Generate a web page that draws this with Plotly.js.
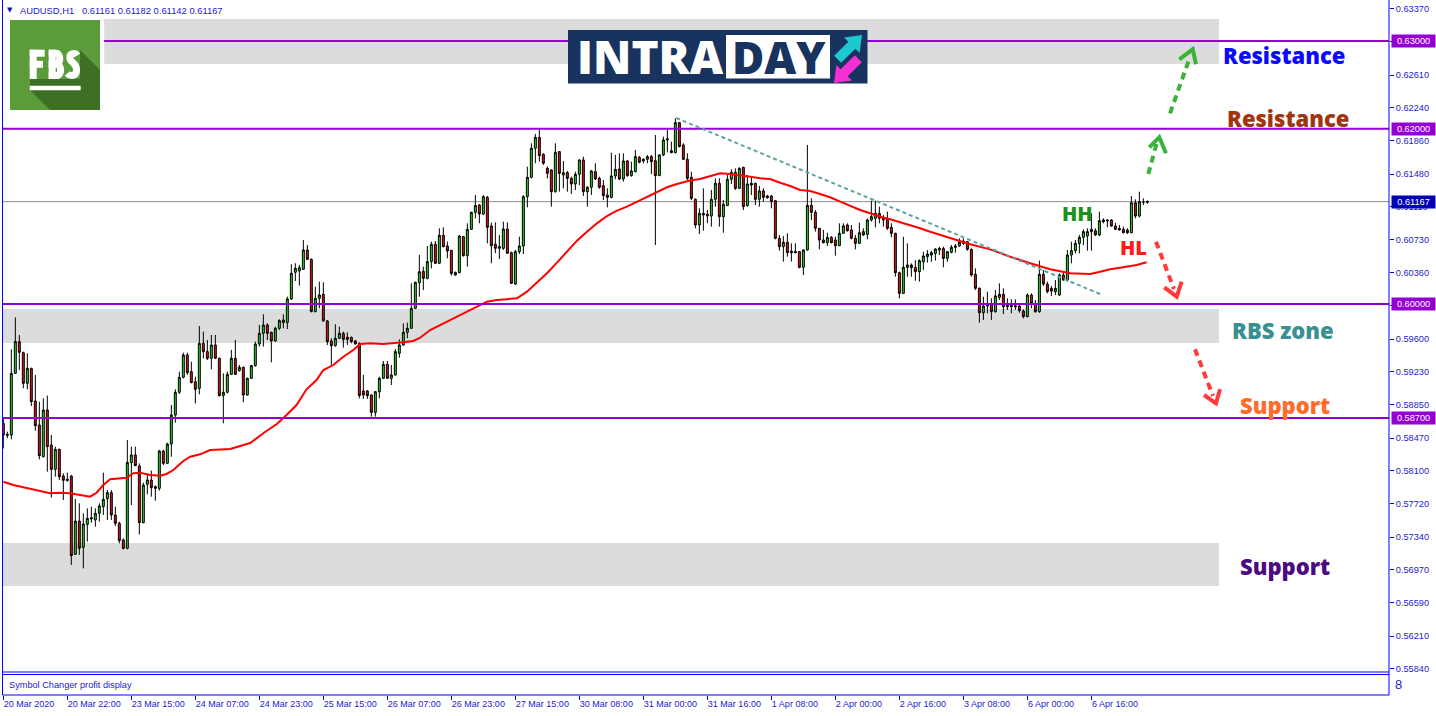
<!DOCTYPE html>
<html><head><meta charset="utf-8">
<script src="https://cdn.plot.ly/plotly-3.0.1.min.js"></script>
<style>html,body{margin:0;padding:0;background:#fff;overflow:hidden}#chart{width:1436px;height:716px}</style>
</head><body><div id="chart"></div>
<script>
// ---------------- DATA (AUDUSD H1) ----------------
const open = [
0.58638,0.58512,0.58505,0.59208,0.59570,0.59444,0.59094,0.59265,0.58893,0.58619,
0.58257,0.58790,0.58391,0.58113,0.58341,0.58037,0.57999,0.58037,0.57143,0.57523,
0.57223,0.57485,0.57546,0.57535,0.57611,0.57687,0.57778,0.57847,0.57592,0.57497,
0.57307,0.57212,0.58189,0.58277,0.58151,0.57504,0.57942,0.57991,0.57915,0.57896,
0.58322,0.58181,0.58402,0.58733,0.58992,0.59163,0.59418,0.59227,0.59113,0.59037,
0.59551,0.59456,0.59380,0.59532,0.59380,0.58954,0.58992,0.59197,0.59380,0.59239,
0.59277,0.58961,0.59152,0.59296,0.59543,0.59665,0.59760,0.59676,0.59578,0.59722,
0.59817,0.59787,0.60057,0.60361,0.60376,0.60395,0.60616,0.60509,0.59912,0.60064,
0.60110,0.59806,0.59578,0.59524,0.59608,0.59665,0.59619,0.59619,0.59578,0.59551,
0.59007,0.59007,0.58961,0.58763,0.58999,0.59152,0.59311,0.59152,0.59190,0.59437,
0.59532,0.59676,0.59722,0.59950,0.60243,0.60372,0.60292,0.60483,0.60680,0.60464,
0.60783,0.60661,0.60612,0.60361,0.60357,0.60768,0.60551,0.60851,0.61045,0.61129,
0.61026,0.61216,0.60890,0.60680,0.60635,0.60635,0.60855,0.60585,0.60228,0.60597,
0.60661,0.61224,0.61445,0.61776,0.61901,0.61707,0.61547,0.61528,0.61281,0.61738,
0.61471,0.61498,0.61433,0.61369,0.61479,0.61643,0.61281,0.61331,0.61509,0.61433,
0.61350,0.61243,0.61216,0.61460,0.61540,0.61426,0.61631,0.61464,0.61509,0.61673,
0.61631,0.61650,0.61681,0.61635,0.61464,0.61700,0.61871,0.61749,0.61726,0.62069,
0.61814,0.61650,0.61445,0.61194,0.60901,0.61034,0.61023,0.61004,0.61194,0.61376,
0.60996,0.61122,0.61422,0.61502,0.61319,0.61559,0.61122,0.61376,0.61376,0.61194,
0.61289,0.61232,0.61232,0.61178,0.60749,0.60654,0.60703,0.60604,0.60600,0.60597,
0.60418,0.60616,0.61125,0.61045,0.60863,0.60730,0.60699,0.60760,0.60730,0.60665,
0.60806,0.60901,0.60844,0.60749,0.60692,0.60825,0.60794,0.60958,0.60977,0.61034,
0.60984,0.60965,0.60874,0.60806,0.60357,0.60121,0.60418,0.60444,0.60418,0.60368,
0.60482,0.60539,0.60558,0.60577,0.60615,0.60634,0.60520,0.60589,0.60646,0.60661,
0.60691,0.60710,0.60623,0.60338,0.60178,0.59900,0.59976,0.59999,0.59912,0.60075,
0.60110,0.59984,0.59984,0.59980,0.59976,0.59919,0.59855,0.60102,0.60007,0.59912,
0.60338,0.60227,0.60178,0.60140,0.60102,0.60330,0.60273,0.60558,0.60608,0.60691,
0.60760,0.60775,0.60825,0.60836,0.60787,0.60958,0.60958,0.60958,0.60889,0.60863,
0.60851,0.60844,0.60813,0.61155,0.61003,0.61160,0.61161];
const high = [
0.58695,0.58543,0.59482,0.59847,0.59646,0.59456,0.59437,0.59273,0.59189,0.58885,
0.58923,0.58954,0.58505,0.58372,0.58349,0.58067,0.58075,0.58048,0.57774,0.57725,
0.57611,0.57668,0.57687,0.57668,0.57725,0.58075,0.57877,0.57877,0.57687,0.57516,
0.57326,0.58448,0.58372,0.58372,0.58181,0.57961,0.58067,0.58098,0.57930,0.58334,
0.58334,0.58417,0.58847,0.59026,0.59227,0.59444,0.59444,0.59341,0.59170,0.59748,
0.59684,0.59589,0.59646,0.59646,0.59387,0.59208,0.59228,0.59475,0.59589,0.59304,
0.59285,0.59159,0.59304,0.59570,0.59760,0.59882,0.59779,0.59684,0.59741,0.59825,
0.59882,0.60083,0.60452,0.60464,0.60445,0.60730,0.60673,0.60521,0.60197,0.60254,
0.60247,0.59817,0.59608,0.59768,0.59741,0.59684,0.59676,0.59627,0.59589,0.59562,
0.59190,0.59018,0.58969,0.59007,0.59170,0.59349,0.59349,0.59304,0.59486,0.59596,
0.59779,0.59787,0.60235,0.60254,0.60559,0.60425,0.60661,0.60711,0.60718,0.60863,
0.60874,0.60711,0.60616,0.60368,0.60787,0.60775,0.60920,0.61053,0.61243,0.61140,
0.61243,0.61232,0.60928,0.60931,0.60787,0.60939,0.60931,0.60597,0.60616,0.60768,
0.61243,0.61566,0.61833,0.61939,0.61985,0.61719,0.61570,0.61536,0.61833,0.61745,
0.61631,0.61517,0.61452,0.61509,0.61650,0.61681,0.61346,0.61528,0.61605,0.61452,
0.61414,0.61319,0.61726,0.61700,0.61719,0.61719,0.61643,0.61623,0.61757,0.61688,
0.61662,0.61700,0.61700,0.61928,0.61707,0.61909,0.61985,0.61852,0.62118,0.62076,
0.61833,0.61719,0.61509,0.61205,0.61091,0.61319,0.61072,0.61300,0.61433,0.61433,
0.61186,0.61471,0.61536,0.61547,0.61559,0.61566,0.61471,0.61452,0.61384,0.61346,
0.61319,0.61243,0.61243,0.61186,0.60787,0.60775,0.60806,0.60692,0.60692,0.60604,
0.60623,0.61814,0.61205,0.61072,0.60863,0.60844,0.60813,0.60775,0.60768,0.60920,
0.60920,0.60920,0.60901,0.60787,0.60928,0.60863,0.60977,0.61178,0.61178,0.61110,
0.61015,0.61053,0.60920,0.60813,0.60368,0.60767,0.60691,0.60463,0.60501,0.60509,
0.60596,0.60615,0.60604,0.60634,0.60653,0.60653,0.60604,0.60672,0.60684,0.60748,
0.60748,0.60718,0.60634,0.60406,0.60189,0.60083,0.60140,0.60064,0.60159,0.60235,
0.60178,0.60064,0.60052,0.60052,0.60007,0.59938,0.60121,0.60121,0.60045,0.60494,
0.60387,0.60254,0.60205,0.60273,0.60349,0.60357,0.60615,0.60710,0.60729,0.60787,
0.60851,0.60863,0.61034,0.60863,0.61053,0.60977,0.60965,0.60965,0.60927,0.60901,
0.60882,0.60863,0.61231,0.61193,0.61281,0.61205,0.61182];
const low = [
0.58352,0.58467,0.58455,0.59201,0.59246,0.59037,0.59026,0.58836,0.58554,0.58227,
0.58250,0.58086,0.57790,0.58029,0.57991,0.57763,0.57972,0.57021,0.57136,0.57136,
0.56983,0.57288,0.57504,0.57459,0.57516,0.57592,0.57535,0.57535,0.57466,0.57269,
0.57200,0.57200,0.57706,0.58151,0.57371,0.57497,0.57828,0.57801,0.57755,0.57870,
0.58162,0.58174,0.58257,0.58645,0.58973,0.59151,0.59189,0.59094,0.58866,0.58969,
0.59379,0.59360,0.59254,0.59372,0.58942,0.58638,0.58980,0.59190,0.59190,0.59228,
0.58878,0.58954,0.59144,0.59285,0.59513,0.59513,0.59589,0.59334,0.59570,0.59703,
0.59722,0.59714,0.60045,0.60262,0.60209,0.60388,0.60502,0.59905,0.59905,0.59950,
0.59798,0.59532,0.59304,0.59513,0.59600,0.59501,0.59532,0.59551,0.59539,0.58923,
0.58916,0.58916,0.58714,0.58714,0.58923,0.59144,0.59144,0.59075,0.59182,0.59387,
0.59524,0.59608,0.59714,0.59943,0.60083,0.60159,0.60281,0.60406,0.60456,0.60456,
0.60646,0.60521,0.60323,0.60323,0.60349,0.60540,0.60425,0.60844,0.60977,0.60920,
0.61015,0.60692,0.60464,0.60578,0.60513,0.60616,0.60570,0.60228,0.60216,0.60570,
0.60570,0.61102,0.61433,0.61605,0.61623,0.61585,0.61433,0.61110,0.61270,0.61281,
0.61319,0.61281,0.61255,0.61300,0.61357,0.61232,0.61110,0.61243,0.61414,0.61315,
0.61186,0.61102,0.61205,0.61422,0.61414,0.61395,0.61452,0.61452,0.61502,0.61605,
0.61605,0.61605,0.61483,0.60673,0.61460,0.61688,0.61730,0.61719,0.61719,0.61787,
0.61643,0.61414,0.61186,0.60863,0.60798,0.60836,0.60920,0.60882,0.61110,0.60882,
0.60813,0.61118,0.61369,0.61300,0.61312,0.61072,0.61110,0.61243,0.61129,0.61110,
0.61167,0.61201,0.61091,0.60737,0.60608,0.60483,0.60540,0.60483,0.60578,0.60406,
0.60330,0.60608,0.60958,0.60825,0.60623,0.60692,0.60661,0.60692,0.60551,0.60661,
0.60798,0.60825,0.60737,0.60623,0.60684,0.60775,0.60737,0.60939,0.60874,0.60920,
0.60882,0.60844,0.60760,0.60311,0.60064,0.60113,0.60311,0.60311,0.60265,0.60254,
0.60387,0.60471,0.60482,0.60494,0.60558,0.60418,0.60482,0.60577,0.60585,0.60653,
0.60672,0.60608,0.60311,0.60159,0.59786,0.59817,0.59893,0.59817,0.59900,0.60045,
0.59885,0.59931,0.59893,0.59931,0.59900,0.59836,0.59847,0.59950,0.59900,0.59900,
0.60205,0.60121,0.60091,0.60102,0.60091,0.60265,0.60254,0.60463,0.60577,0.60577,
0.60672,0.60608,0.60608,0.60775,0.60775,0.60920,0.60874,0.60882,0.60844,0.60836,
0.60806,0.60798,0.60806,0.60977,0.60988,0.61129,0.61142];
const close = [
0.58505,0.58501,0.59208,0.59570,0.59448,0.59094,0.59265,0.58885,0.58611,0.58269,
0.58790,0.58372,0.58113,0.58341,0.58029,0.57987,0.57987,0.57128,0.57523,0.57212,
0.57489,0.57554,0.57561,0.57611,0.57695,0.57771,0.57847,0.57592,0.57497,0.57299,
0.57212,0.58193,0.58277,0.58155,0.57504,0.57934,0.57991,0.57904,0.57896,0.58322,
0.58181,0.58402,0.58733,0.58992,0.59163,0.59418,0.59216,0.59102,0.59026,0.59551,
0.59456,0.59379,0.59532,0.59380,0.58954,0.58992,0.59197,0.59380,0.59197,0.59277,
0.58961,0.59152,0.59296,0.59543,0.59665,0.59760,0.59665,0.59578,0.59722,0.59810,
0.59787,0.60057,0.60349,0.60407,0.60414,0.60616,0.60509,0.59912,0.60064,0.60102,
0.59806,0.59570,0.59524,0.59608,0.59665,0.59596,0.59596,0.59570,0.59543,0.58954,
0.58961,0.58954,0.58763,0.58999,0.59152,0.59311,0.59152,0.59190,0.59456,0.59532,
0.59676,0.59722,0.59950,0.60247,0.60368,0.60292,0.60483,0.60680,0.60464,0.60783,
0.60654,0.60604,0.60349,0.60330,0.60775,0.60551,0.60851,0.61045,0.61122,0.61026,
0.61224,0.60874,0.60665,0.60635,0.60654,0.60855,0.60578,0.60235,0.60597,0.60661,
0.61224,0.61445,0.61776,0.61901,0.61692,0.61605,0.61490,0.61281,0.61730,0.61490,
0.61498,0.61433,0.61369,0.61479,0.61643,0.61281,0.61331,0.61517,0.61426,0.61331,
0.61236,0.61216,0.61460,0.61536,0.61426,0.61631,0.61464,0.61517,0.61681,0.61616,
0.61650,0.61681,0.61623,0.61464,0.61700,0.61871,0.61882,0.61726,0.62069,0.61795,
0.61650,0.61433,0.61205,0.60901,0.61034,0.61015,0.61004,0.61194,0.61376,0.60996,
0.61137,0.61422,0.61502,0.61319,0.61547,0.61110,0.61369,0.61357,0.61194,0.61289,
0.61216,0.61213,0.61167,0.60749,0.60654,0.60703,0.60585,0.60585,0.60585,0.60418,
0.60616,0.61125,0.61045,0.60863,0.60730,0.60699,0.60760,0.60699,0.60665,0.60806,
0.60890,0.60836,0.60749,0.60692,0.60813,0.60787,0.60958,0.60996,0.61034,0.60977,
0.60958,0.60863,0.60806,0.60357,0.60121,0.60418,0.60444,0.60414,0.60368,0.60494,
0.60547,0.60570,0.60585,0.60627,0.60634,0.60520,0.60596,0.60646,0.60661,0.60703,
0.60718,0.60623,0.60330,0.60178,0.59900,0.59976,0.59999,0.59912,0.60091,0.60110,
0.59969,0.59969,0.59969,0.59969,0.59923,0.59855,0.60102,0.60007,0.59912,0.60338,
0.60227,0.60140,0.60147,0.60178,0.60330,0.60273,0.60558,0.60608,0.60691,0.60760,
0.60825,0.60825,0.60851,0.60787,0.60950,0.60939,0.60950,0.60889,0.60851,0.60844,
0.60813,0.60813,0.61155,0.61003,0.61167,0.61161,0.61167];

// moving average (bar position, price)
const maBars = [0,2.5,5,7.5,10,11.7,14.2,16.7,19.2,21.7,23.3,25,26.7,29.2,30.8,32.5,34.2,36.7,39.2,40.8,
42.5,45,46.7,49.2,51.7,56.7,61.7,65.4,68.3,70.8,73.3,75.8,78.3,80,82.5,85,87.5,89.2,91.7,95,
97.5,100,102.5,104.2,106.7,111.7,117.1,120.9,123.3,128.4,130.9,133.4,135.9,138.4,140.9,143.4,145.9,148.4,150.9,153.4,
155.9,158.4,160.9,163.4,165.9,168.4,171.7,174.2,176.7,179.2,181.7,184.2,186.7,189.2,191.7,194.2,196.7,199.2,201.7,204.2,
206.7,209.2,211.7,214.2,216.7,219.2,221.7,224.2,226.7,229.2,231.7,236.7,241.7,246.7,251.7,256.7,261.7,266.7,271.7,274.2,
276.7,280,283.3,285.8];
const maValues = [0.57972,0.57934,0.57908,0.57885,0.57858,0.57840,0.57846,0.57840,0.57820,0.57801,0.57846,0.57934,0.57999,0.58011,0.58017,0.58068,0.58075,0.58048,0.58040,0.58060,
0.58105,0.58208,0.58257,0.58284,0.58334,0.58345,0.58413,0.58539,0.58627,0.58733,0.58847,0.59026,0.59132,0.59246,0.59303,0.59398,0.59475,0.59543,0.59551,0.59543,
0.59551,0.59562,0.59577,0.59615,0.59703,0.59817,0.59939,0.60026,0.60045,0.60064,0.60140,0.60242,0.60350,0.60471,0.60596,0.60722,0.60824,0.60920,0.61003,0.61064,
0.61110,0.61167,0.61217,0.61281,0.61331,0.61369,0.61409,0.61426,0.61460,0.61491,0.61483,0.61471,0.61452,0.61434,0.61426,0.61383,0.61346,0.61300,0.61289,0.61255,
0.61217,0.61167,0.61118,0.61072,0.61034,0.60995,0.60966,0.60932,0.60901,0.60863,0.60824,0.60756,0.60681,0.60623,0.60539,0.60464,0.60395,0.60350,0.60342,0.60368,
0.60395,0.60418,0.60444,0.60475];

const timeTickBars = [0,16,32,48,64,80,96,112,128,144,160,176,192,208,224,240,256,272];
const timeTickLabels = ['20 Mar 2020','20 Mar 22:00','23 Mar 15:00','24 Mar 07:00','24 Mar 23:00','25 Mar 15:00',
 '26 Mar 07:00','26 Mar 23:00','27 Mar 15:00','30 Mar 08:00','31 Mar 00:00','31 Mar 16:00','1 Apr 08:00',
 '2 Apr 00:00','2 Apr 16:00','3 Apr 08:00','6 Apr 00:00','6 Apr 16:00'];
const priceTicks = [0.6337,0.6299,0.6261,0.6224,0.6186,0.6148,0.6111,0.6073,0.6036,0.5998,0.5960,0.5923,
 0.5885,0.5847,0.5810,0.5772,0.5734,0.5697,0.5659,0.5621,0.5584];

const levelPrices = [0.630, 0.620, 0.600, 0.587];
const currentPrice = 0.61167;
const zoneTop = [0.62738, 0.63251];
const zoneRBS = [0.59554, 0.59942];
const zoneSupport = [0.56782, 0.57272];
const trendFrom = [168.2, 0.62122];
const trendTo = [274.2, 0.60113];

// ---------------- LAYOUT HELPERS ----------------
const L = 3, R = 1389, T = 3, B = 695;
const PX = x => (x - L) / (R - L);
const PY = y => (B - y) / (B - T);
const fmt = p => PX(p[0]).toFixed(5) + ',' + PY(p[1]).toFixed(5);
const path = pts => pts.map((p, i) => (i ? 'L' : 'M') + fmt(p)).join(' ');

const MTBLUE = '#1c1cc8';
const mtFont = {family: 'Liberation Sans, Arial, sans-serif', size: 9.2, color: MTBLUE};
const boldFont = (size, color) => ({family: 'Open Sans, sans-serif', size: size, color: color, weight: 800});

const barIndex = open.map((_, i) => i);

const traces = [
  {type: 'candlestick', x: barIndex, open: open, high: high, low: low, close: close,
   increasing: {line: {color: '#000000', width: 1}, fillcolor: '#22dd22'},
   decreasing: {line: {color: '#000000', width: 1}, fillcolor: '#e81212'},
   whiskerwidth: 0, hoverinfo: 'skip', showlegend: false, xaxis: 'x', yaxis: 'y'},
  {type: 'scatter', mode: 'lines', x: maBars, y: maValues, line: {color: '#ff0000', width: 2},
   hoverinfo: 'skip', showlegend: false, xaxis: 'x', yaxis: 'y'}
];

const shapes = [];
// zones
[[25.2, zoneTop], [-3, zoneRBS], [-3, zoneSupport]].forEach(([x0, z]) => {
  shapes.push({type: 'rect', xref: 'x', yref: 'y', x0: x0, x1: 303.9, y0: z[0], y1: z[1],
    fillcolor: '#dcdcdc', line: {width: 0}, layer: 'below'});
});
// current price line
shapes.push({type: 'line', xref: 'x', yref: 'y', x0: -3, x1: 350, y0: currentPrice, y1: currentPrice,
  line: {color: '#8c8c8c', width: 1}, layer: 'below'});
// purple levels
levelPrices.forEach((p, i) => {
  shapes.push({type: 'line', xref: 'x', yref: 'y', x0: i === 0 ? 25.2 : -3, x1: 350, y0: p, y1: p,
    line: {color: '#9400d3', width: 2}});
});
// trend line
shapes.push({type: 'line', xref: 'x', yref: 'y', x0: trendFrom[0], y0: trendFrom[1], x1: trendTo[0], y1: trendTo[1],
  line: {color: '#5fa3a3', width: 2, dash: '4px,3px'}});

// frame
const frameLine = (x0, y0, x1, y1) => shapes.push({type: 'line', xref: 'paper', yref: 'paper',
  x0: PX(x0), y0: PY(y0), x1: PX(x1), y1: PY(y1), line: {color: '#0000ff', width: 1}});
frameLine(2.5, 0, 2.5, 695);
frameLine(2.5, 672, 1389, 672);
frameLine(2.5, 674.5, 1389, 674.5);
frameLine(2.5, 695, 1389, 695);
frameLine(1389, 0, 1389, 695);

// dashed arrows
function arrow(tail, end, head, color) {
  shapes.push({type: 'line', xref: 'paper', yref: 'paper', x0: PX(tail[0]), y0: PY(tail[1]),
    x1: PX(end[0]), y1: PY(end[1]), line: {color: color, width: 4, dash: '7px,5px'}});
  shapes.push({type: 'path', xref: 'paper', yref: 'paper', path: path(head), line: {color: color, width: 4}});
}
const GREEN_ARROW = '#3bb23a', RED_ARROW = '#ff3a3a';
arrow([1148.3, 174], [1157, 142], [[1149.3, 147.3], [1159.3, 137.3], [1166, 153.3]], GREEN_ARROW);
arrow([1170, 113.3], [1190, 57], [[1179.3, 59.3], [1192.7, 49.3], [1196, 64.3]], GREEN_ARROW);
arrow([1156, 241.7], [1174, 289], [[1164.3, 287.3], [1176.7, 296.7], [1181.7, 281.7]], RED_ARROW);
arrow([1195, 349.3], [1213, 396], [[1204, 395], [1216, 403.3], [1220, 389.3]], RED_ARROW);

// FBS logo (square, shadow, letters drawn as strokes, underline)
const paperShape = s => shapes.push(Object.assign({xref: 'paper', yref: 'paper'}, s));
paperShape({type: 'rect', x0: PX(10), x1: PX(100), y0: PY(110), y1: PY(20), fillcolor: '#5b9b3a', line: {width: 0}});
paperShape({type: 'path', path: path([[80, 50], [100, 70], [100, 110], [50, 110], [30, 90], [30, 79], [80, 79]]) + ' Z',
  fillcolor: '#3d6f25', line: {width: 0}});
const W = {color: '#ffffff', width: 7};
const seg = (a, b) => paperShape({type: 'line', x0: PX(a[0]), y0: PY(a[1]), x1: PX(b[0]), y1: PY(b[1]), line: W});
seg([33.2, 49.7], [33.2, 79]); seg([29.7, 53.2], [44.7, 53.2]); seg([29.7, 64.3], [43, 64.3]);   // F
seg([52.2, 49.7], [52.2, 79]);                                                                   // B stem
paperShape({type: 'path', line: W,
  path: 'M' + fmt([48.7, 53.2]) + ' L' + fmt([56, 53.2]) + ' C' + fmt([61, 53.2]) + ' ' + fmt([61, 64.3]) + ' ' + fmt([56, 64.3]) + ' L' + fmt([48.7, 64.3])});
paperShape({type: 'path', line: W,
  path: 'M' + fmt([48.7, 64.3]) + ' L' + fmt([56.5, 64.3]) + ' C' + fmt([62, 64.3]) + ' ' + fmt([62, 75.5]) + ' ' + fmt([56.5, 75.5]) + ' L' + fmt([48.7, 75.5])});
paperShape({type: 'path', line: W,
  path: 'M' + fmt([77.2, 55.5]) + ' C' + fmt([75.5, 52.8]) + ' ' + fmt([69.8, 52.5]) + ' ' + fmt([69.8, 57.5]) +
        ' C' + fmt([69.8, 63]) + ' ' + fmt([76.6, 62.5]) + ' ' + fmt([76.6, 69.5]) +
        ' C' + fmt([76.6, 77]) + ' ' + fmt([70, 76.5]) + ' ' + fmt([67.3, 73.5])});
paperShape({type: 'rect', x0: PX(29.7), x1: PX(80.7), y0: PY(90.3), y1: PY(85.7), fillcolor: '#ffffff', line: {width: 0}});

// INTRADAY logo
paperShape({type: 'rect', x0: PX(568), x1: PX(867.5), y0: PY(83.5), y1: PY(30), fillcolor: '#17335e', line: {width: 0}});
paperShape({type: 'rect', x0: PX(726), x1: PX(830), y0: PY(78.5), y1: PY(35), fillcolor: '#ffffff', line: {width: 0}});
paperShape({type: 'path',
  path: path([[862, 35], [859.6, 53], [855.3, 48.7], [841.2, 62.8], [834.2, 55.8], [848.3, 41.7], [844, 37.4]]) + ' Z',
  fillcolor: '#1ec8d0', line: {width: 0}});
paperShape({type: 'path',
  path: path([[834, 83], [852, 80.6], [847.7, 76.3], [861.8, 62.2], [854.8, 55.2], [840.7, 69.3], [836.4, 65]]) + ' Z',
  fillcolor: '#f52fd4', line: {width: 0}});

// ---------------- ANNOTATIONS ----------------
const annotations = [];
const txt = (x, y, text, font, xanchor) => annotations.push({xref: 'paper', yref: 'paper', x: PX(x), y: PY(y),
  text: text, font: font, showarrow: false, xanchor: xanchor || 'center', yanchor: 'middle', borderpad: 0});

txt(9.5, 10, '▼', {family: 'DejaVu Sans, sans-serif', size: 7, color: '#1010b0'});
txt(19, 10, 'AUDUSD,H1\u00a0\u00a0 0.61161 0.61182 0.61142 0.61167', {family: 'Liberation Sans, Arial, sans-serif', size: 9.4, color: '#1a1acd'}, 'left');
txt(8, 684.5, 'Symbol Changer profit display', {family: 'Liberation Sans, Arial, sans-serif', size: 9.2, color: MTBLUE}, 'left');
txt(1394, 684, '8', {family: 'Liberation Sans, sans-serif', size: 13, color: MTBLUE}, 'left');

txt(650.5, 56.5, 'INTRA', boldFont(46, '#ffffff'));
txt(778.5, 57, 'DAY', boldFont(44, '#17335e'));

txt(1283.5, 54.5, 'Resistance', boldFont(22, '#0a0aff'));
txt(1287.5, 118, 'Resistance', boldFont(22, '#a0340f'));
txt(1077, 214, 'HH', boldFont(20, '#1f8f1f'));
txt(1133.5, 248, 'HL', boldFont(20, '#ff1a1a'));
txt(1282.5, 330, 'RBS zone', boldFont(22, '#3a9090'));
txt(1284.5, 405, 'Support', boldFont(22, '#ff6b2b'));
txt(1284.5, 566, 'Support', boldFont(22, '#4b0a82'));

// highlighted price labels on the right scale
const tagPrices = [0.630, 0.620, currentPrice, 0.600, 0.587];
const tagColors = ['#9400d3', '#9400d3', '#0000b4', '#9400d3', '#9400d3'];
tagPrices.forEach((p, i) => annotations.push({xref: 'paper', yref: 'y', x: 1, y: p, xanchor: 'left', yanchor: 'middle',
  xshift: 2, text: p.toFixed(5), showarrow: false, bgcolor: tagColors[i], width: 41, height: 10, borderpad: 1,
  align: 'center', font: {family: 'Liberation Sans, Arial, sans-serif', size: 9.2, color: '#ffffff'}}));

const layout = {
  width: 1436, height: 716,
  margin: {l: L, r: 1436 - R, t: T, b: 716 - B, pad: 0},
  paper_bgcolor: '#ffffff', plot_bgcolor: '#ffffff',
  showlegend: false, hovermode: false, dragmode: false,
  xaxis: {range: [-0.08, 346.4], anchor: 'free', position: 0, tickmode: 'array', tickvals: timeTickBars, ticktext: timeTickLabels,
    ticks: 'outside', ticklen: 4, tickwidth: 1, tickcolor: '#0000ff', tickangle: 0,
    ticklabelposition: 'outside right', tickfont: {family: 'Liberation Sans, Arial, sans-serif', size: 9, color: MTBLUE},
    showgrid: false, zeroline: false, showline: false, rangeslider: {visible: false}, automargin: false, fixedrange: true},
  yaxis: {domain: [(B - 672) / (B - T), 1], range: [0.558005, 0.634338], side: 'right', anchor: 'x',
    tickmode: 'array', tickvals: priceTicks, ticktext: priceTicks.map(v => v.toFixed(5)),
    ticks: 'outside', ticklen: 4, tickwidth: 1, tickcolor: '#0000ff', tickfont: mtFont,
    showgrid: false, zeroline: false, showline: false, automargin: false, fixedrange: true},
  shapes: shapes,
  annotations: annotations
};

Plotly.newPlot('chart', traces, layout, {staticPlot: true, displayModeBar: false});
</script>
</body></html>
